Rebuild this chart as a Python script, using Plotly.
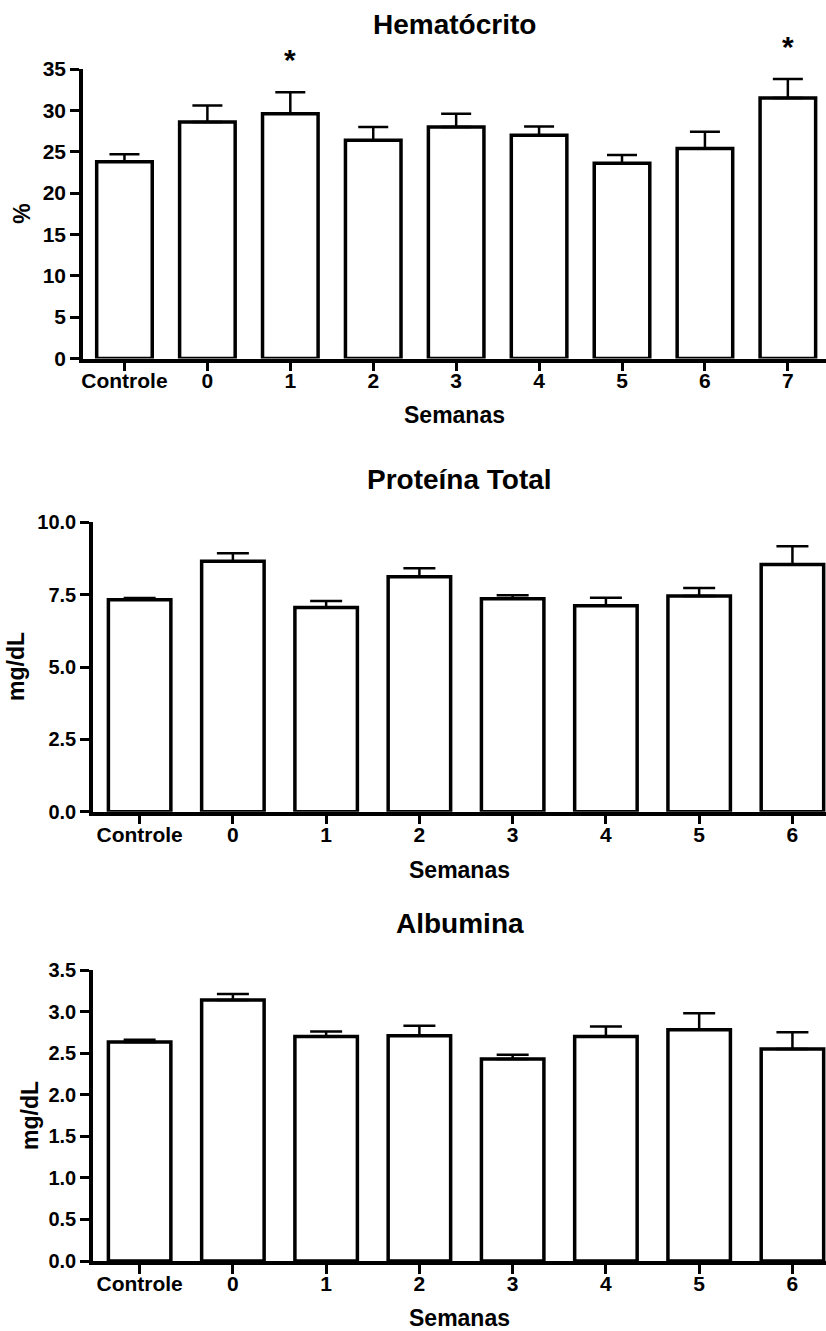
import plotly.graph_objects as go

W, H = 826, 1331
FONT = "Liberation Sans, Arial, Helvetica, sans-serif"

# ---------------- data ----------------
hema_cats = ["Controle", "0", "1", "2", "3", "4", "5", "6", "7"]
hema_mean = [23.8, 28.6, 29.6, 26.4, 28.0, 27.0, 23.6, 25.4, 31.5]
hema_sem = [0.9, 2.0, 2.6, 1.6, 1.6, 1.05, 1.0, 2.0, 2.3]
hema_sig = ["", "", "*", "", "", "", "", "", "*"]

prot_cats = ["Controle", "0", "1", "2", "3", "4", "5", "6"]
prot_mean = [7.32, 8.65, 7.06, 8.12, 7.36, 7.12, 7.45, 8.54]
prot_sem = [0.06, 0.28, 0.22, 0.29, 0.12, 0.27, 0.28, 0.63]

alb_cats = ["Controle", "0", "1", "2", "3", "4", "5", "6"]
alb_mean = [2.635, 3.14, 2.70, 2.71, 2.43, 2.70, 2.78, 2.55]
alb_sem = [0.025, 0.07, 0.06, 0.12, 0.05, 0.12, 0.20, 0.20]

# ---------------- layout spec (pixels) ----------------
panels = [
    dict(title="Hematócrito", ytitle="%", cats=hema_cats, mean=hema_mean, sem=hema_sem,
         sig=hema_sig, x0=83, x1=826, ytop=69, ybot=358.5, xr=[-0.5, 8.46], yr=[0, 35],
         dtick=5, fmt="d", title_y=24, xt_y=415, yt_x=22, cap=15, ytick_size=21),
    dict(title="Proteína Total", ytitle="mg/dL", cats=prot_cats, mean=prot_mean, sem=prot_sem,
         sig=None, x0=93, x1=826, ytop=522.3, ybot=811.7, xr=[-0.5, 7.36], yr=[0, 10],
         dtick=2.5, fmt=".1f", title_y=479, xt_y=870, yt_x=16, cap=16, ytick_size=20),
    dict(title="Albumina", ytitle="mg/dL", cats=alb_cats, mean=alb_mean, sem=alb_sem,
         sig=None, x0=93, x1=826, ytop=970, ybot=1261, xr=[-0.5, 7.36], yr=[0, 3.5],
         dtick=0.5, fmt=".1f", title_y=923.5, xt_y=1317.5, yt_x=29.5, cap=16, ytick_size=20),
]

def px_x(p):
    return p / W

def px_y(p):
    return 1 - p / H

fig = go.Figure()
annotations = []

for i, p in enumerate(panels, start=1):
    xa = "x" if i == 1 else f"x{i}"
    ya = "y" if i == 1 else f"y{i}"
    xk = "xaxis" if i == 1 else f"xaxis{i}"
    yk = "yaxis" if i == 1 else f"yaxis{i}"

    n = len(p["cats"])
    fig.add_trace(go.Bar(
        x=p["cats"], y=p["mean"], xaxis=xa, yaxis=ya, width=0.67,
        marker=dict(color="white", line=dict(color="black", width=3.5)),
        error_y=dict(type="data", array=p["sem"], arrayminus=[0] * n, symmetric=False,
                     color="black", thickness=2.5, width=p["cap"]),
        showlegend=False, hoverinfo="skip",
    ))

    fig.layout[xk] = dict(
        domain=[px_x(p["x0"]), px_x(p["x1"])], anchor=ya, type="category",
        range=p["xr"], showline=True, linecolor="black", linewidth=3.5,
        ticks="outside", ticklen=9, tickwidth=3, tickcolor="black",
        showgrid=False, zeroline=False, fixedrange=True, automargin=False,
        ticklabelstandoff=-8,
        tickfont=dict(family=FONT, size=21, color="black", weight="bold"),
    )
    fig.layout[yk] = dict(
        domain=[px_y(p["ybot"]), px_y(p["ytop"])], anchor=xa,
        range=p["yr"], dtick=p["dtick"], tick0=0, tickformat=p["fmt"],
        showline=True, linecolor="black", linewidth=3.5,
        ticks="outside", ticklen=9, tickwidth=3, tickcolor="black",
        showgrid=False, zeroline=False, fixedrange=True, automargin=False,
        tickfont=dict(family=FONT, size=p["ytick_size"], color="black", weight="bold"),
    )

    xd = f"{xa} domain"
    # chart title
    annotations.append(dict(text="<b>%s</b>" % p["title"], xref=xd, x=0.5, yref="paper",
                            y=px_y(p["title_y"]), xanchor="center", yanchor="middle",
                            showarrow=False, font=dict(family=FONT, size=28, color="black")))
    # x title
    annotations.append(dict(text="<b>Semanas</b>", xref=xd, x=0.5, yref="paper",
                            y=px_y(p["xt_y"]), xanchor="center", yanchor="middle",
                            showarrow=False, font=dict(family=FONT, size=23, color="black")))
    # y title
    annotations.append(dict(text="<b>%s</b>" % p["ytitle"], xref="paper", x=px_x(p["yt_x"]),
                            yref="paper", y=px_y((p["ytop"] + p["ybot"]) / 2),
                            xanchor="center", yanchor="middle", textangle=-90,
                            showarrow=False, font=dict(family=FONT, size=23, color="black")))
    # significance markers (x given as category index)
    if p["sig"]:
        for j, (m, s, mark) in enumerate(zip(p["mean"], p["sem"], p["sig"])):
            if mark:
                annotations.append(dict(text="<b>%s</b>" % mark, xref=xa, x=j,
                                        yref=f"{ya} domain", y=(m + s) / p["yr"][1],
                                        xanchor="center", yanchor="bottom", yshift=14,
                                        showarrow=False,
                                        font=dict(family=FONT, size=30, color="black")))

fig.update_layout(
    template="none",
    width=W, height=H, margin=dict(l=0, r=0, t=0, b=0, pad=0, autoexpand=False),
    paper_bgcolor="white", plot_bgcolor="white",
    font=dict(family=FONT, color="black"),
    annotations=annotations, showlegend=False,
)

fig.write_html("out.html")
